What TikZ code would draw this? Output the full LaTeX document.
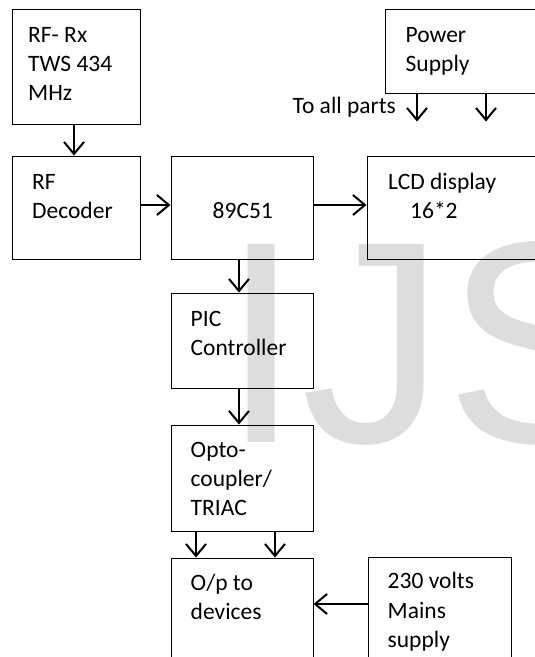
\documentclass[tikz,border=0pt]{standalone}
\usepackage{fontspec}
\setmainfont{Carlito}
\newfontfamily\wmfont{Liberation Sans}
\usetikzlibrary{arrows.meta}
\definecolor{wmgray}{RGB}{221,221,221}
\newcommand\mainfs{\fontsize{23.5}{29}\selectfont}
\tikzset{
  box/.style={draw=black, line width=0.9pt, anchor=north west, inner sep=0pt, outer sep=0pt},
  txt/.style={anchor=base west, inner sep=0pt, font=\mainfs},
  arr/.style={line width=2pt, -{Straight Barb[length=12pt,width=20pt,line width=2pt]}, shorten >=0.5pt}
}
\begin{document}
\begin{tikzpicture}[x=1pt,y=-1pt]
\useasboundingbox (0,0) rectangle (535,657);
\clip (0,0) rectangle (535,657);
\fill[white] (0,0) rectangle (535,657);
% watermark
\node[anchor=base west, inner sep=0pt, text=wmgray, font=\wmfont\fontsize{288}{288}\selectfont] (wm) at (221,442) {IJS};
% boxes
\node[box, minimum width=128pt, minimum height=115pt] (rx) at (12,9) {};
\node[box, minimum width=128pt, minimum height=103pt] (dec) at (12,156) {};
\node[box, minimum width=142pt, minimum height=103pt] (mcu) at (171,156) {};
\node[box, minimum width=200pt, minimum height=103pt] (lcd) at (367,156) {};
\node[box, minimum width=200pt, minimum height=84pt] (pwr) at (385,9) {};
\node[box, minimum width=142pt, minimum height=95pt] (pic) at (171,293) {};
\node[box, minimum width=142pt, minimum height=106pt] (opto) at (171,425) {};
\node[box, minimum width=142pt, minimum height=142pt] (out) at (171,558) {};
\node[box, minimum width=143pt, minimum height=143pt] (mains) at (368,557) {};
% texts
\node[txt] (t1a) at (28,42) {RF- Rx};
\node[txt] (t1b) at (28,71) {TWS 434};
\node[txt] (t1c) at (28,100) {MHz};
\node[txt] (t2a) at (32,189) {RF};
\node[txt] (t2b) at (32,218) {Decoder};
\node[txt] (t3) at (212.5,218) {89C51};
\node[txt] (t4a) at (388,189) {LCD display};
\node[txt] (t4b) at (410,218) {16*2};
\node[txt] (t5a) at (405.5,42) {Power};
\node[txt] (t5b) at (405.5,71) {Supply};
\node[txt] (t5c) at (292.5,113) {To all parts};
\node[txt] (t6a) at (190.5,326) {PIC};
\node[txt] (t6b) at (190.5,355) {Controller};
\node[txt] (t7a) at (190.5,457) {Opto-};
\node[txt] (t7b) at (190.5,486) {coupler/};
\node[txt] (t7c) at (190.5,515) {TRIAC};
\node[txt] (t8a) at (190.5,590) {O/p to};
\node[txt] (t8b) at (190.5,619) {devices};
\node[txt] (t9a) at (387.5,588.5) {230 volts};
\node[txt] (t9b) at (387.5,618) {Mains};
\node[txt] (t9c) at (387.5,647) {supply};
% connectors
\coordinate (xa) at (74,0);
\coordinate (ya) at (0,205);
\coordinate (xb) at (239,0);
\coordinate (xc) at (196,0);
\coordinate (xd) at (275,0);
\coordinate (ye) at (0,604);
\coordinate (p1) at (417,122);
\coordinate (p2) at (486,122);
\draw[arr] (rx.south -| xa) -- (dec.north -| xa);
\draw[arr] (dec.east |- ya) -- (mcu.west |- ya);
\draw[arr] (mcu.east |- ya) -- (lcd.west |- ya);
\draw[arr] (mcu.south -| xb) -- (pic.north -| xb);
\draw[arr] (pic.south -| xb) -- (opto.north -| xb);
\draw[arr] (opto.south -| xc) -- (out.north -| xc);
\draw[arr] (opto.south -| xd) -- (out.north -| xd);
\draw[arr] (mains.west |- ye) -- (out.east |- ye);
\draw[arr] (pwr.south -| p1) -- (p1);
\draw[arr] (pwr.south -| p2) -- (p2);
\end{tikzpicture}
\end{document}
